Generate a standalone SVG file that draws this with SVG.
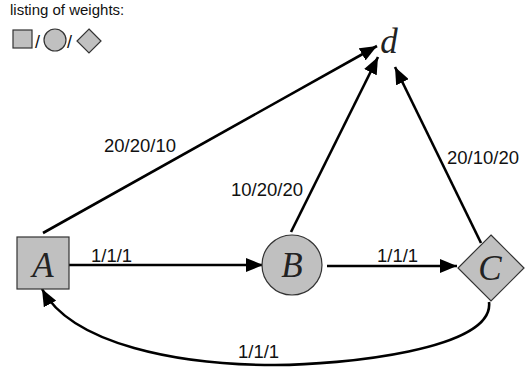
<svg xmlns="http://www.w3.org/2000/svg" width="525" height="368" viewBox="0 0 525 368">
<style>
.shape{fill:#c0c0c0;stroke:#333;stroke-width:1.2}
.lbl{font-family:"Liberation Sans",Arial,sans-serif;font-size:18.5px;fill:#111}
.nl{font-family:"Liberation Serif","Times New Roman",serif;font-style:italic;font-size:35px;fill:#222}
.edge{fill:none;stroke:#000;stroke-width:2.6}
</style>
<defs>
<marker id="arr" markerUnits="userSpaceOnUse" markerWidth="18" markerHeight="14" refX="17" refY="7" orient="auto">
<path d="M0,0 L17,7 L0,14 Z" fill="#000"/>
</marker>
</defs>
<g id="legend">
<text x="10" y="15" class="lbl" style="font-size:15px">listing of weights:</text>
<rect class="shape" x="13" y="30" width="19" height="18"/>
<text x="35" y="48" class="lbl" style="font-size:18px">/</text>
<circle class="shape" cx="55" cy="40" r="11"/>
<text x="67" y="48" class="lbl" style="font-size:18px">/</text>
<path class="shape" d="M89,29 L101,41 L89,53 L77,41 Z"/>
</g>
<g id="connectors">
<line class="edge" x1="43" y1="233" x2="377" y2="46" marker-end="url(#arr)"/>
<line class="edge" x1="291" y1="232" x2="378" y2="57" marker-end="url(#arr)"/>
<line class="edge" x1="481" y1="243" x2="395" y2="67" marker-end="url(#arr)"/>
<line class="edge" x1="69" y1="265" x2="263" y2="265" marker-end="url(#arr)"/>
<line class="edge" x1="327" y1="266" x2="457" y2="266" marker-end="url(#arr)"/>
<path class="edge" d="M489,302 C495,350 340,365 275,365 C180,365 72,345 42,289" marker-end="url(#arr)"/>
<text x="104" y="152" class="lbl">20/20/10</text>
<text x="231" y="196" class="lbl">10/20/20</text>
<text x="447" y="164" class="lbl">20/10/20</text>
<text x="91" y="262" class="lbl">1/1/1</text>
<text x="377" y="262" class="lbl">1/1/1</text>
<text x="238" y="358" class="lbl">1/1/1</text>
</g>
<g id="nodeA">
<rect class="shape" x="17" y="237" width="52" height="52"/>
<text x="43" y="277" class="nl" text-anchor="middle">A</text>
</g>
<g id="nodeB">
<circle class="shape" cx="292" cy="265" r="30"/>
<text x="292" y="277" class="nl" text-anchor="middle">B</text>
</g>
<g id="nodeC">
<path class="shape" d="M491,235 L524,268 L491,301 L458,268 Z"/>
<text x="490" y="280" class="nl" text-anchor="middle">C</text>
</g>
<g id="noded">
<text x="389" y="53" class="nl" text-anchor="middle">d</text>
</g>
</svg>
